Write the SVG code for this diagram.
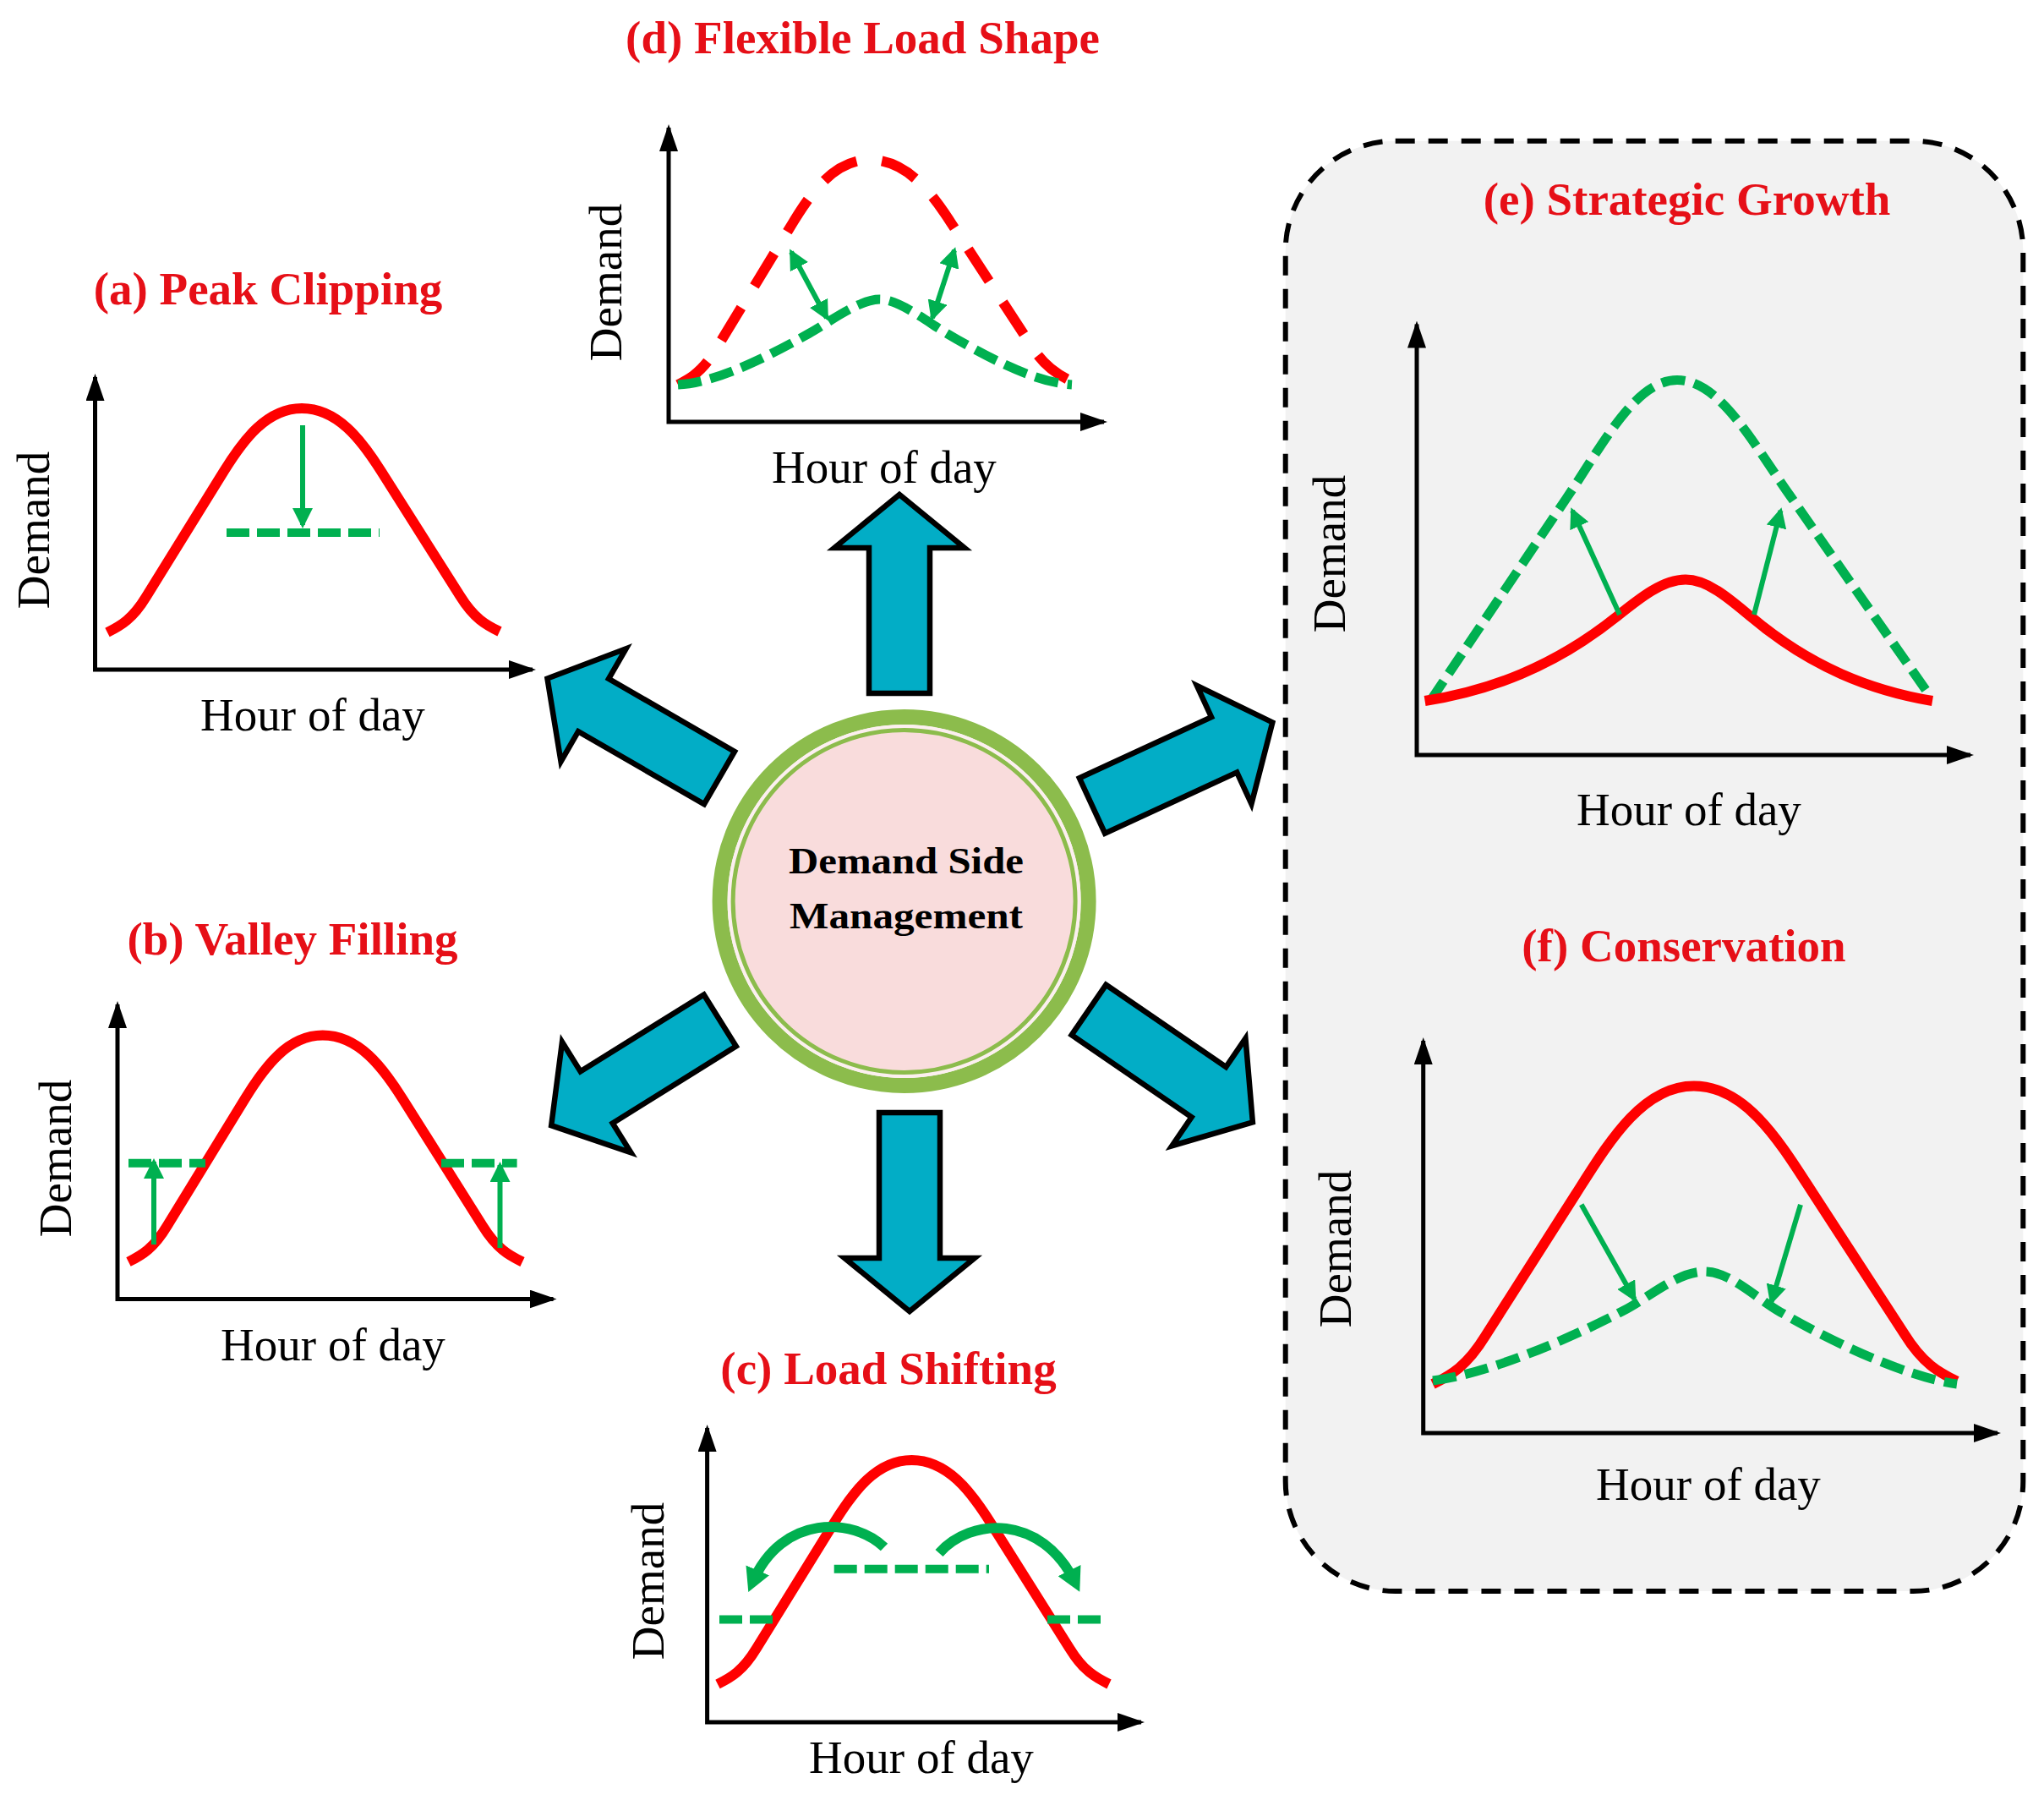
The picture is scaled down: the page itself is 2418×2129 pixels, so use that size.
<svg xmlns="http://www.w3.org/2000/svg" xmlns:xlink="http://www.w3.org/1999/xlink" width="2418" height="2129" viewBox="0 0 2418 2129">
<style>
.title{font-family:"Liberation Serif","Times New Roman",serif;font-weight:bold;font-size:55px;fill:#e60f17;text-anchor:middle}
.lbl{font-family:"Liberation Serif","Times New Roman",serif;font-size:55px;fill:#000;text-anchor:middle}
.ctr{font-family:"Liberation Serif","Times New Roman",serif;font-weight:bold;font-size:45px;fill:#000;text-anchor:middle}
.axis{fill:none;stroke:#000;stroke-width:5;marker-start:url(#axHead);marker-end:url(#axHead)}
.red{fill:none;stroke:#ff0000;stroke-width:12}
.redd{fill:none;stroke:#ff0000;stroke-width:12;stroke-dasharray:45 30}
.grd{fill:none;stroke:#00b050;stroke-width:11;stroke-dasharray:28 11}
.grh{fill:none;stroke:#00b050;stroke-width:10;stroke-dasharray:27 9}
.arr{fill:none;stroke:#00b050;stroke-width:6;marker-end:url(#gHead)}
.arr2{fill:none;stroke:#00b050;stroke-width:6;marker-start:url(#gHead);marker-end:url(#gHead)}
.curv{fill:none;stroke:#00b050;stroke-width:12;marker-end:url(#gHeadBig)}
.big{fill:#02adc6;stroke:#000;stroke-width:6.5;stroke-linejoin:miter}
</style>
<defs>
<marker id="axHead" markerUnits="userSpaceOnUse" viewBox="0 0 32 22" markerWidth="32" markerHeight="22" refX="28" refY="11" orient="auto-start-reverse"><path d="M0,0 L32,11 L0,22 z" fill="#000"/></marker>
<marker id="gHead" markerUnits="userSpaceOnUse" viewBox="0 0 24 24" markerWidth="24" markerHeight="24" refX="20" refY="12" orient="auto-start-reverse"><path d="M0,0 L24,12 L0,24 z" fill="#00b050"/></marker>
<marker id="gHeadBig" markerUnits="userSpaceOnUse" viewBox="0 0 28 30" markerWidth="28" markerHeight="30" refX="16" refY="15" orient="auto"><path d="M0,0 L28,15 L0,30 z" fill="#00b050"/></marker>
<polygon id="bigArrow" points="0,-36 172,-36 172,-77 235,0 172,77 172,36 0,36"/>
</defs>
<rect width="2418" height="2129" fill="#fff"/>

<g id="group-box">
<rect x="1520.7" y="166.7" width="872.6" height="1715.3" rx="130" ry="130" fill="#f2f2f2" stroke="#000" stroke-width="6" stroke-dasharray="23 16"/>
</g>

<g id="connectors">
<use href="#bigArrow" class="big" transform="translate(1064,820) rotate(-90)"/>
<use href="#bigArrow" class="big" transform="translate(1076,1316) rotate(90)"/>
<use href="#bigArrow" class="big" transform="translate(851,920) rotate(210)"/>
<use href="#bigArrow" class="big" transform="translate(1292,953) rotate(-24.8)"/>
<use href="#bigArrow" class="big" transform="translate(851.7,1207) rotate(148.1)"/>
<use href="#bigArrow" class="big" transform="translate(1288,1194.5) rotate(34.4)"/>
</g>

<g id="node-dsm">
<circle cx="1069.6" cy="1066" r="218" fill="none" stroke="#8cbc4c" stroke-width="18"/>
<circle cx="1069.6" cy="1066" r="209" fill="#fcefef"/>
<circle cx="1069.6" cy="1066" r="202.5" fill="#f9dcdc" stroke="#8cbc4c" stroke-width="5"/>
<text class="ctr" x="1072" y="1033" textLength="278" lengthAdjust="spacingAndGlyphs">Demand Side</text>
<text class="ctr" x="1072" y="1098" textLength="276" lengthAdjust="spacingAndGlyphs">Management</text>
</g>

<g id="panel-a">
<text class="title" x="317" y="360">(a) Peak Clipping</text>
<path class="axis" d="M112.5,446 V792 H630"/>
<path class="red" d="M127,748 C143.1,740 156.9,732.1 173,705.6 L265,557.2 C288,520.1 315.6,483 357,483 C399.1,483 427.2,520 450.6,556.9 L544.2,704.8 C560.6,731.2 574.6,739.1 591,747"/>
<path class="grh" d="M268,630 H449"/>
<path class="arr" d="M358,503 V621"/>
<text class="lbl" transform="translate(58,627) rotate(-90)">Demand</text>
<text class="lbl" x="370" y="864">Hour of day</text>
</g>

<g id="panel-b">
<text class="title" x="346" y="1129">(b) Valley Filling</text>
<path class="axis" d="M139,1188 V1536.5 H654.5"/>
<path class="red" d="M152,1492.5 C168.1,1484.5 181.9,1476.4 197.9,1449.6 L289.8,1299.6 C312.8,1262.1 340.4,1224.6 381.7,1224.6 C424.2,1224.6 452.6,1262.1 476.2,1299.6 L570.7,1449.6 C587.3,1476.4 601.5,1484.5 618,1492.5"/>
<path class="grh" d="M152,1375.7 H243 M522,1375.7 H611.6" stroke-dasharray="28 10"/>
<path class="arr" d="M182,1472 V1374"/>
<path class="arr" d="M591.5,1476 V1378"/>
<text class="lbl" transform="translate(84,1370) rotate(-90)">Demand</text>
<text class="lbl" x="394" y="1609">Hour of day</text>
</g>

<g id="panel-c">
<text class="title" x="1051" y="1637">(c) Load Shifting</text>
<path class="axis" d="M836.6,1689 V2037 H1350"/>
<path class="red" d="M849,1992 C865.1,1984 878.8,1976.1 894.9,1949.6 L986.7,1801.2 C1009.6,1764.1 1037.2,1727 1078.5,1727 C1120.5,1727 1148.6,1764.1 1171.9,1801.2 L1265.3,1949.6 C1281.6,1976.1 1295.7,1984 1312,1992"/>
<path class="grh" d="M986.7,1855.8 H1170" stroke-width="7" stroke-dasharray="25 8"/>
<path class="grh" d="M851,1915.6 H916 M1239,1915.6 H1307" stroke-dasharray="30 9"/>
<path class="curv" d="M1046,1830 C1010,1795 925,1790 890,1872"/>
<path class="curv" d="M1111,1837 C1148,1795 1232,1790 1272,1872"/>
<text class="lbl" transform="translate(785,1870) rotate(-90)">Demand</text>
<text class="lbl" x="1090" y="2097">Hour of day</text>
</g>

<g id="panel-d">
<text class="title" x="1020.5" y="63">(d) Flexible Load Shape</text>
<path class="axis" d="M791,151 V499 H1306"/>
<path class="redd" d="M802,455 C817.9,447 831.4,439 847.3,412.4 L937.9,263.5 C960.6,226.2 987.7,189 1028.5,189 C1071.6,189 1100.4,225.7 1124.3,262.4 L1220.1,409.1 C1236.9,435.3 1251.2,443.1 1268,451"/>
<path class="grd" d="M802,455 C837.8,453 885.5,434.8 957.1,394.4 C980.9,381 1016.7,354 1040.6,354 C1063.3,354 1097.5,381 1120.2,394.4 C1188.4,434.8 1233.9,453 1268,455"/>
<path class="arr2" d="M936,298 L978,376"/>
<path class="arr2" d="M1129,296 L1103,376"/>
<text class="lbl" transform="translate(735,334) rotate(-90)">Demand</text>
<text class="lbl" x="1046" y="571">Hour of day</text>
</g>

<g id="panel-e">
<text class="title" x="1995.5" y="254">(e) Strategic Growth</text>
<path class="axis" d="M1676,383.5 V893 H2331"/>
<path class="grd" d="M1692,829 L1852.6,590 C1896.4,525.5 1934.4,449.6 1984,449.6 C2034.8,449.6 2073.7,524.3 2118.6,587.8 L2283,823"/>
<path class="red" d="M1685.6,829 C1761.5,816.9 1837.3,789.6 1913.1,728.9 C1940.1,707.3 1967,685.6 1994,685.6 C2019.6,685.6 2045,707.3 2070.6,728.9 C2142.3,789.6 2214.2,816.9 2286,829"/>
<path class="arr" d="M1916,727 L1860,604"/>
<path class="arr" d="M2075,727 L2106.5,604"/>
<text class="lbl" transform="translate(1591,655) rotate(-90)">Demand</text>
<text class="lbl" x="1998" y="976">Hour of day</text>
</g>

<g id="panel-f">
<text class="title" x="1992" y="1137">(f) Conservation</text>
<path class="axis" d="M1683.7,1231 V1695 H2363"/>
<path class="red" d="M1695,1637 C1716.6,1626.4 1735.1,1615.8 1756.8,1580.6 L1864.8,1411.3 C1901.9,1353.2 1942,1284.4 2003.8,1284.4 C2066,1284.4 2106.5,1352.5 2143.8,1410.1 L2252.8,1577.7 C2274.5,1612.6 2293.2,1623.1 2315,1633.6"/>
<path class="grd" d="M1695,1633 C1759.3,1625.3 1855.9,1584 1920.2,1550.4 C1952.4,1533.7 1984.5,1504 2016.7,1504 C2046.5,1504 2076.4,1534.6 2106.2,1551.9 C2165.9,1586.5 2255.3,1629 2315,1637"/>
<path class="arr" d="M1870.7,1424.8 L1933.5,1536.5"/>
<path class="arr" d="M2130,1424.8 L2095.5,1540"/>
<text class="lbl" transform="translate(1598,1477) rotate(-90)">Demand</text>
<text class="lbl" x="2021" y="1774">Hour of day</text>
</g>
</svg>
